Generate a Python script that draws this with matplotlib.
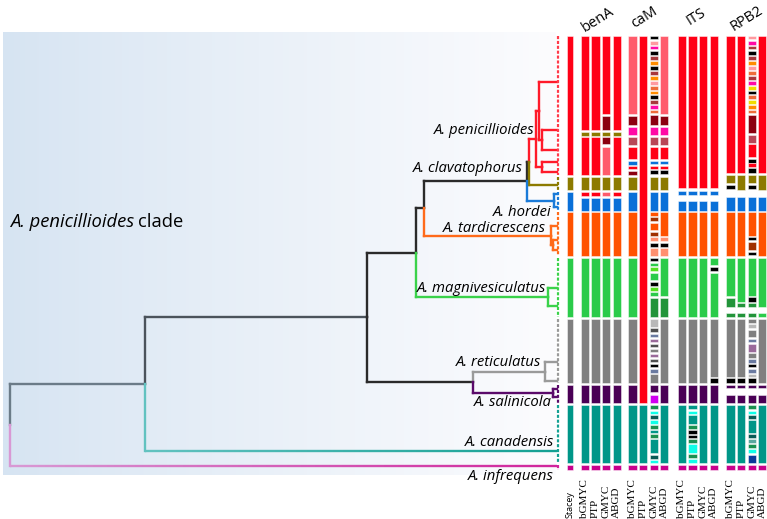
import numpy as np
import matplotlib
matplotlib.use('Agg')
import matplotlib.pyplot as plt
from matplotlib.collections import LineCollection
from matplotlib.colors import to_rgb

# ---------------- data ----------------
genes = ['benA', 'caM', 'ITS', 'RPB2']
methods = ['bGMYC', 'PTP', 'GMYC', 'ABGD']

species = ['A. penicillioides', 'A. clavatophorus', 'A. hordei', 'A. tardicrescens',
           'A. magnivesiculatus', 'A. reticulatus', 'A. salinicola', 'A. canadensis',
           'A. infrequens']
species_label_right = [534, 523, 551, 546, 546, 541, 552, 554, 554]
species_label_y = [130, 169, 213, 229, 288, 363, 403, 442, 477]

clade_names = ['red', 'olive', 'blue', 'orange', 'green', 'gray', 'purple', 'teal', 'magenta']
clade_start = [36, 177.3, 192.3, 212.3, 258.3, 319, 385, 405, 465]
clade_end = [175, 190, 210.7, 255.7, 316.7, 382.7, 402.7, 463.3, 470]

palette = {
    'red': '#ff0016', 'pink': '#ff5c6c', 'darkred': '#8c0010', 'olive': '#8c7a00',
    'blue': '#0a70d8', 'orange': '#ff5200', 'green': '#2bcb4a', 'dkgreen': '#22943a',
    'gray': '#808080', 'purple': '#4a0055', 'teal': '#009688', 'magenta': '#c8008c',
    'black': '#000000', 'hotpink': '#ff0aa5', 'rose': '#b84657', 'ltpink': '#ff9aa0',
    'brown': '#a8383c', 'orange2': '#ff8c00', 'salmon': '#ee6c3a', 'yellow': '#f0dc00',
    'brown2': '#a03000', 'ltsalmon': '#ff9070', 'lime': '#55e020', 'ltgray': '#b8b8b8',
    'dkgray': '#505050', 'slate': '#6a7aa0', 'mauve': '#9a6a9a', 'violet': '#d000f0',
    'tgreen': '#1a9050', 'cyan': '#10ffe8', 'dkteal': '#0a5a55', 'lteal': '#5aa8a0',
    'navy': '#0a3a9a',
}

# per-column deviations from the Stacey clade blocks: clade -> [(start, end, colour)]
benA_bGMYC = {
    'red': [(36, 129.5, 'red'), (131.5, 135.7, 'olive'), (137.3, 175, 'red')],
    'blue': [(192.3, 196, 'red'), (197.5, 210.7, 'blue')],
}
benA_PTP = benA_bGMYC
benA_GMYC = {
    'red': [(36, 114.3, 'red'), (116, 129.5, 'darkred'), (131.5, 135.7, 'olive'),
            (137.3, 144, 'darkred'), (146.7, 175, 'pink')],
    'blue': [(192.3, 196, 'pink'), (197.5, 210.7, 'blue')],
}
benA_ABGD = benA_bGMYC

caM_bGMYC = {
    'red': [(36, 114.3, 'pink'), (116, 125, 'darkred'), (126.7, 135, 'hotpink'),
            (137.3, 145, 'rose'), (146.7, 159.3, 'red'), (160.7, 165, 'blue'),
            (166, 169.3, 'red'), (170.5, 175, 'darkred')],
}
caM_PTP = {
    'red': [(36, 402.7, 'red')], 'olive': [], 'blue': [], 'orange': [], 'green': [],
    'gray': [], 'purple': [],
}
caM_GMYC = {
    'red': [(36, 39.3, 'black'), (41, 45, 'ltpink'), (46, 49.3, 'hotpink'), (50.7, 55, 'black'),
            (56, 60, 'brown'), (61, 65, 'orange2'), (66, 70, 'black'), (71, 75, 'brown'),
            (76, 80, 'orange2'), (81, 85, 'ltpink'), (86, 90, 'salmon'), (91, 94.3, 'orange2'),
            (95.3, 99.3, 'black'), (100, 104, 'brown'), (105.3, 109.3, 'hotpink'),
            (110, 113.3, 'salmon'), (115.3, 125, 'darkred'), (126.7, 135, 'hotpink'),
            (137.3, 145, 'rose'), (146.7, 159.3, 'red'), (160.7, 164.3, 'blue'),
            (165.7, 169, 'red'), (170, 174.3, 'black')],
    'orange': [(212.3, 215.7, 'orange'), (217.3, 221, 'brown2'), (222.7, 230, 'orange'),
               (231.7, 235.7, 'brown2'), (237.3, 241, 'ltsalmon'), (242.7, 246.7, 'black'),
               (247.7, 255.7, 'ltsalmon')],
    'green': [(258.3, 261, 'black'), (262.7, 265.7, 'green'), (267.3, 271, 'lime'),
              (272.7, 280, 'green'), (282.3, 285.7, 'black'), (287.3, 290.7, 'lime'),
              (292.3, 295.7, 'green'), (297.7, 316.7, 'dkgreen')],
    'gray': [(319, 326.7, 'ltgray'), (328.3, 331.7, 'dkgray'), (334, 337.3, 'slate'),
             (339, 342.3, 'mauve'), (344, 347.3, 'dkgray'), (349, 352.3, 'gray'),
             (354, 357.3, 'mauve'), (359, 362.3, 'dkgray'), (364, 367.3, 'black'),
             (369, 372.7, 'slate'), (374, 382.7, 'gray')],
    'purple': [(385, 391.7, 'purple'), (395, 402.7, 'violet')],
    'teal': [(405, 409.3, 'tgreen'), (410.7, 414, 'cyan'), (415, 419.3, 'dkteal'),
             (420, 424, 'cyan'), (425, 429, 'tgreen'), (430, 433.3, 'teal'),
             (434.3, 438.3, 'tgreen'), (439.3, 453.3, 'teal'), (455, 459, 'dkteal'),
             (460, 463.3, 'cyan')],
}
caM_ABGD = {
    'red': [(36, 114.3, 'pink'), (116, 125, 'darkred'), (126.7, 135, 'hotpink'),
            (137.3, 145, 'rose'), (146.7, 159.3, 'red'), (160.7, 164.3, 'blue'),
            (165.7, 169, 'red'), (170, 174.3, 'black')],
    'orange': [(212.3, 235.7, 'orange'), (237.3, 241, 'ltsalmon'), (242.7, 246.7, 'black'),
               (247.7, 255.7, 'ltsalmon')],
    'green': [(258.3, 295.7, 'green'), (297.7, 316.7, 'dkgreen')],
}

ITS_common = {
    'red': [(36, 188.3, 'red')], 'olive': [],
    'blue': [(190.7, 195, 'blue'), (200.7, 210.7, 'blue')],
}
ITS_bGMYC = dict(ITS_common)
ITS_PTP = dict(ITS_common, teal=[
    (405, 409.3, 'teal'), (410.7, 414, 'cyan'), (415, 424, 'teal'), (425, 429, 'tgreen'),
    (430, 434, 'black'), (434.7, 438.3, 'black'), (439.3, 443.3, 'tgreen'),
    (444.3, 453.3, 'cyan'), (454.3, 458.3, 'tgreen'), (459.3, 463.3, 'cyan')])
ITS_GMYC = dict(ITS_common)
ITS_ABGD = dict(ITS_common,
                green=[(258.3, 265, 'green'), (266.7, 270.7, 'black'), (272.7, 316.7, 'green')],
                gray=[(319, 376.7, 'gray'), (378.3, 382.7, 'black')])

RPB2_bGMYC = {
    'red': [(36, 172.7, 'red')],
    'olive': [(175, 183.3, 'olive'), (185, 189.3, 'black')],
    'blue': [(196.7, 210.7, 'blue')],
    'green': [(258.3, 295.7, 'green'), (297.7, 307.3, 'dkgreen'), (312.7, 316.7, 'dkgreen')],
    'gray': [(319, 376.7, 'gray'), (378.3, 382.7, 'black')],
    'purple': [(385, 388.3, 'purple'), (395, 402.7, 'purple')],
}
RPB2_PTP = {
    'red': [(36, 172.7, 'red')],
    'olive': [(175, 190, 'olive')],
    'blue': [(196.7, 210.7, 'blue')],
    'green': [(258.3, 301.7, 'green'), (303.3, 306.7, 'dkgreen'), (312.7, 316.7, 'dkgreen')],
    'gray': [(319, 376.7, 'gray'), (378.3, 382.7, 'black')],
    'purple': [(385, 388.3, 'purple'), (395, 402.7, 'purple')],
}
RPB2_GMYC = {
    'red': [(36, 39.3, 'ltpink'), (41, 45, 'hotpink'), (46, 49.3, 'brown'), (50.7, 55, 'black'),
            (56, 60, 'brown'), (61, 65, 'orange2'), (66, 70, 'ltpink'), (71, 75, 'salmon'),
            (76, 80, 'brown'), (81, 85, 'hotpink'), (86, 90, 'yellow'), (91, 94.3, 'black'),
            (95.3, 99.3, 'salmon'), (100, 104, 'yellow'), (105.3, 109.3, 'orange2'),
            (110, 113.3, 'salmon'), (115.3, 133.3, 'darkred'), (135, 142.7, 'rose'),
            (144, 157.3, 'red'), (158.7, 162.7, 'black'), (163.3, 166.7, 'red'),
            (168.3, 172.7, 'black')],
    'olive': [(175, 183.3, 'olive'), (185, 189.3, 'black')],
    'blue': [(196.7, 210.7, 'blue')],
    'orange': [(212.3, 235.7, 'orange'), (237.3, 240.3, 'black'), (242, 250, 'brown2'),
               (251.7, 255, 'black')],
    'green': [(258.3, 295.7, 'green'), (297.3, 301.7, 'black'), (303.3, 306.7, 'dkgreen'),
              (312.7, 316.7, 'dkgreen')],
    'gray': [(319, 322.7, 'gray'), (324, 328.3, 'ltgray'), (330, 337.3, 'gray'),
             (339, 342.3, 'slate'), (344, 351.7, 'mauve'), (353.3, 358.3, 'gray'),
             (359.3, 362.7, 'slate'), (364, 367.3, 'black'), (369, 372.7, 'slate'),
             (374, 376.7, 'ltgray'), (378.3, 382.7, 'black')],
    'purple': [(385, 388.3, 'purple'), (395, 402.7, 'purple')],
    'teal': [(405, 409.3, 'tgreen'), (410.7, 414, 'cyan'), (415, 419.3, 'dkteal'),
             (420, 433.3, 'teal'), (434.3, 438.3, 'dkteal'), (439.3, 443.3, 'lteal'),
             (444.3, 448.3, 'tgreen'), (449.3, 453.3, 'cyan'), (455, 463.3, 'navy')],
}
RPB2_ABGD = {
    'red': [(36, 172.7, 'red')],
    'olive': [(175, 190, 'olive')],
    'blue': [(196.7, 210.7, 'blue')],
    'green': [(258.3, 306.7, 'green'), (312.7, 316.7, 'green')],
    'purple': [(385, 388.3, 'purple'), (395, 402.7, 'purple')],
}

column_data = [
    [benA_bGMYC, benA_PTP, benA_GMYC, benA_ABGD],
    [caM_bGMYC, caM_PTP, caM_GMYC, caM_ABGD],
    [ITS_bGMYC, ITS_PTP, ITS_GMYC, ITS_ABGD],
    [RPB2_bGMYC, RPB2_PTP, RPB2_GMYC, RPB2_ABGD],
]

# phylogeny: depth (x) of every node, tip rows (y) for leaves
TIP = 557
def leaf(y, c):
    return {'x': TIP, 'y': y, 'c': c}

tree = {'x': 10, 'kids': [
    {'x': 145, 'c': '#6b7b88', 'kids': [
        {'x': 367, 'c': '#4b535b', 'kids': [
            {'x': 416, 'c': '#2a2a2a', 'kids': [
                {'x': 424, 'c': '#2a2a2a', 'kids': [
                    {'x': 527, 'c': '#2a2a2a', 'kids': [
                        {'x': 529, 'c': '#2a2a2a', 'kids': [
                            {'x': 536, 'c': '#ff1a2a', 'kids': [
                                {'x': 539, 'c': '#ff1a2a', 'kids': [
                                    leaf(82, '#ff1a2a'),
                                    {'x': 542, 'c': '#ff1a2a', 'kids': [leaf(130, '#ff1a2a'), leaf(150, '#ff1a2a')]},
                                ]},
                                {'x': 542, 'c': '#ff1a2a', 'kids': [leaf(162, '#ff1a2a'), leaf(172, '#ff1a2a')]},
                            ]},
                            leaf(185, '#8c7a00'),
                        ]},
                        {'x': 554, 'c': '#1a7ad8', 'kids': [leaf(194, '#1a7ad8'), leaf(207, '#1a7ad8')]},
                    ]},
                    {'x': 551, 'c': '#ff6a1a', 'kids': [
                        leaf(226, '#ff6a1a'),
                        {'x': 553, 'c': '#ff6a1a', 'kids': [leaf(240, '#ff6a1a'), leaf(250, '#ff6a1a')]},
                    ]},
                ]},
                {'x': 548, 'c': '#3ad24a', 'kids': [leaf(288, '#3ad24a'), leaf(306, '#3ad24a')]},
            ]},
            {'x': 473, 'c': '#2a2a2a', 'kids': [
                {'x': 545, 'c': '#9a9a9a', 'kids': [leaf(362, '#9a9a9a'), leaf(381, '#9a9a9a')]},
                {'x': 553, 'c': '#5a0a6a', 'kids': [leaf(389, '#5a0a6a'), leaf(397, '#5a0a6a')]},
            ]},
        ]},
        {'x': TIP, 'y': 451, 'c': '#14a093', 'c0': '#62c2c0'},
    ]},
    {'x': TIP, 'y': 466, 'c': '#d0259c', 'c0': '#d898d4'},
]}

# ---------------- figure ----------------
W, H = 767, 519
fig = plt.figure(figsize=(W / 100, H / 100), dpi=100)
ax = fig.add_axes([0, 0, 1, 1])
ax.set_xlim(0, W)
ax.set_ylim(H, 0)
ax.axis('off')

# background gradient box
left_c = np.array([214, 228, 242]) / 255
right_c = np.array([252, 252, 254]) / 255
t = np.linspace(0, 1, 256) ** 0.9
grad = left_c[None, :] * (1 - t[:, None]) + right_c[None, :] * t[:, None]
ax.imshow(grad[None, :, :], extent=(3, 556, 475, 32), aspect='auto', zorder=0,
          interpolation='bilinear')

LW = 1.7

def node_y(n):
    if 'y' in n:
        return n['y']
    ys = [node_y(k) for k in n['kids']]
    n['y'] = (ys[0] + ys[-1]) / 2
    return n['y']

def hline(x0, x1, y, c, c0=None):
    if c0 is None:
        ax.plot([x0, x1], [y, y], color=c, lw=LW, solid_capstyle='projecting', zorder=3)
        return
    xs = np.linspace(x0, x1, 80)
    segs = [[(xs[i], y), (xs[i + 1], y)] for i in range(len(xs) - 1)]
    a, b = np.array(to_rgb(c0)), np.array(to_rgb(c))
    f = np.linspace(0, 1, len(segs))[:, None]
    ax.add_collection(LineCollection(segs, colors=a * (1 - f) + b * f, lw=LW, zorder=3,
                                     capstyle='butt'))

def draw(n):
    py = node_y(n)
    for k in n['kids']:
        ky = node_y(k)
        vc = k.get('c0', k['c'])
        ax.plot([n['x'], n['x']], [py, ky], color=vc, lw=LW,
                solid_capstyle='projecting', zorder=3)
        hline(n['x'], k['x'], ky, k['c'], k.get('c0'))
        if 'kids' in k:
            draw(k)

draw(tree)

# dotted tip rows
tip_cols = ['#ff3a4a', '#8c7a00', '#1a7ad8', '#ff6a1a', '#3ad24a', '#9a9a9a', '#5a0a6a',
            '#14a093', '#d0259c']
for c, y0, y1 in zip(tip_cols, clade_start, clade_end):
    ax.plot([TIP + 1, TIP + 1], [y0, y1], color=c, lw=1.6, ls=(0, (1.4, 0.8)), zorder=3)

# delimitation columns
edge = (1, 1, 1, 0.55)
def draw_column(xc, width, overrides):
    for name, y0, y1 in zip(clade_names, clade_start, clade_end):
        segs = overrides.get(name, [(y0, y1, name)])
        for s0, s1, ck in segs:
            ax.bar(xc, s1 - s0, bottom=s0, width=width, color=palette[ck],
                   edgecolor=edge, linewidth=0.6, zorder=2)

draw_column(570, 5.6, {})
group_x0 = [584.9, 632.5, 681.9, 730.5]
step = 10.6
for gi, g in enumerate(genes):
    for mi, m in enumerate(methods):
        draw_column(group_x0[gi] + mi * step, 8.3, column_data[gi][mi])

# ---------------- text ----------------
SANS = 'Open Sans'
for name, xr, y in zip(species, species_label_right, species_label_y):
    ax.text(xr, y, name, ha='right', va='center', fontsize=10.7, style='italic',
            family=SANS, zorder=5)

t1 = ax.text(10, 222, 'A. penicillioides', ha='left', va='center', fontsize=13.2,
             style='italic', family=SANS, zorder=5)
fig.canvas.draw()
bb = t1.get_window_extent(fig.canvas.get_renderer())
x_end = ax.transData.inverted().transform((bb.x1, bb.y0))[0]
ax.text(x_end + 4, 222, 'clade', ha='left', va='center', fontsize=13.2, family=SANS,
        zorder=5)

header_xy = [(598, 20), (644, 18), (696, 17), (747, 19)]
for g, (hx, hy) in zip(genes, header_xy):
    ax.text(hx, hy, g, ha='center', va='center', rotation=32, fontsize=10.5,
            family=SANS, rotation_mode='anchor')

ax.text(570, 518, 'Stacey', rotation=90, ha='center', va='bottom', fontsize=6.5,
        family=SANS)
for gi in range(4):
    for mi, m in enumerate(methods):
        ax.text(group_x0[gi] + mi * step, 518, m, rotation=90, ha='center', va='bottom',
                fontsize=8, family='Liberation Serif')

fig.savefig('out.png', dpi=100)
